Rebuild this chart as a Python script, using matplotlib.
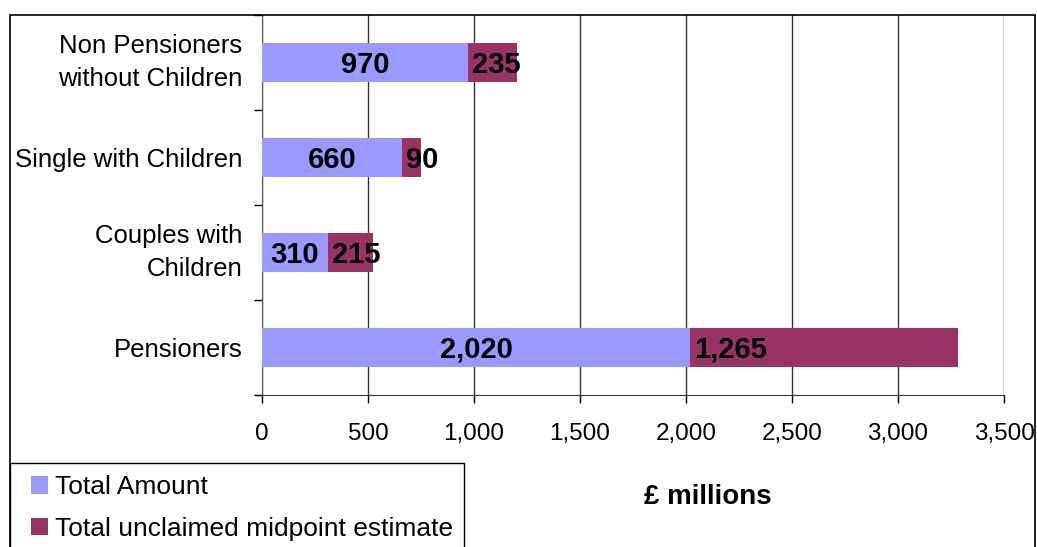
import numpy as np
import matplotlib.pyplot as plt
from matplotlib.patches import Rectangle
from matplotlib.ticker import FuncFormatter

plt.rcParams['font.family'] = ['Liberation Sans', 'DejaVu Sans']

categories = ['Non Pensioners\nwithout Children', 'Single with Children',
              'Couples with\nChildren', 'Pensioners']
total_amount = [970, 660, 310, 2020]
unclaimed = [235, 90, 215, 1265]
xticks = [0, 500, 1000, 1500, 2000, 2500, 3000, 3500]

blue = '#9999FF'
maroon = '#993366'

fig = plt.figure(figsize=(10.37, 5.47), dpi=100)
ax = fig.add_axes([262/1037, 1 - 395/547, (1004 - 262)/1037, (395 - 15)/547])

y = np.arange(len(categories))
b1 = ax.barh(y, total_amount, height=0.42, color=blue, label='Total Amount', zorder=3)
b2 = ax.barh(y, unclaimed, left=total_amount, height=0.42, color=maroon,
             label='Total unclaimed midpoint estimate', zorder=3)

# blue labels centred, maroon labels start just inside the segment
for r, v in zip(b1, total_amount):
    ax.annotate(f'{v:,}', (r.get_x() + r.get_width()/2, r.get_y() + r.get_height()/2),
                xytext=(0, -1.5), textcoords='offset points',
                ha='center', va='center', fontsize=21, fontweight='bold', zorder=4)
for r, v in zip(b2, unclaimed):
    ax.annotate(f'{v:,}', (r.get_x(), r.get_y() + r.get_height()/2),
                xytext=(3, -1.5), textcoords='offset points',
                ha='left', va='center', fontsize=21, fontweight='bold', zorder=4)

ax.set_xlim(0, 3500)
ax.set_ylim(3.5, -0.5)
ax.set_xticks(xticks)
ax.xaxis.set_major_formatter(FuncFormatter(lambda v, p: f'{int(v):,}'))
ax.grid(axis='x', color='#333333', linewidth=1.0, zorder=0)

ax.set_yticks(np.arange(-0.5, 4, 1))
ax.set_yticklabels([])
ax.set_yticks(y, minor=True)
ax.set_yticklabels(categories, minor=True, fontsize=18.5, linespacing=1.45)
for lab in ax.get_yticklabels(minor=True):
    if '\n' in lab.get_text():
        lab.set_va('center')
ax.tick_params(axis='y', which='minor', length=0, pad=14)
ax.tick_params(axis='y', which='major', length=6, width=1, direction='out')
ax.tick_params(axis='x', labelsize=17.5, length=6, width=1, direction='out', pad=14)

for s in ['top', 'right']:
    ax.spines[s].set_visible(False)
ax.spines['left'].set_color('#555555')
ax.spines['bottom'].set_color('#333333')

ax.text(0.601, -0.268, '£ millions', transform=ax.transAxes, ha='center', va='center',
        fontsize=20, fontweight='bold')

# outer chart frame
fig.patches.append(Rectangle((10/1037, -0.1), (1035 - 10)/1037, 1.1 - 15/547,
                             transform=fig.transFigure, fill=False,
                             edgecolor='black', linewidth=1.2))
# legend box
fig.patches.append(Rectangle((10/1037, -0.1), (464 - 10)/1037, 0.1 + 1 - 463/547,
                             transform=fig.transFigure, fill=False,
                             edgecolor='black', linewidth=1.0))
fig.legend(handles=[b1, b2], loc='upper left', bbox_to_anchor=(31/1037, 1 - 475/547),
           frameon=False, fontsize=19, handlelength=0.65, handleheight=0.65,
           handletextpad=0.25, labelspacing=0.68, borderaxespad=0, borderpad=0)

fig.savefig('out.png', dpi=100)
